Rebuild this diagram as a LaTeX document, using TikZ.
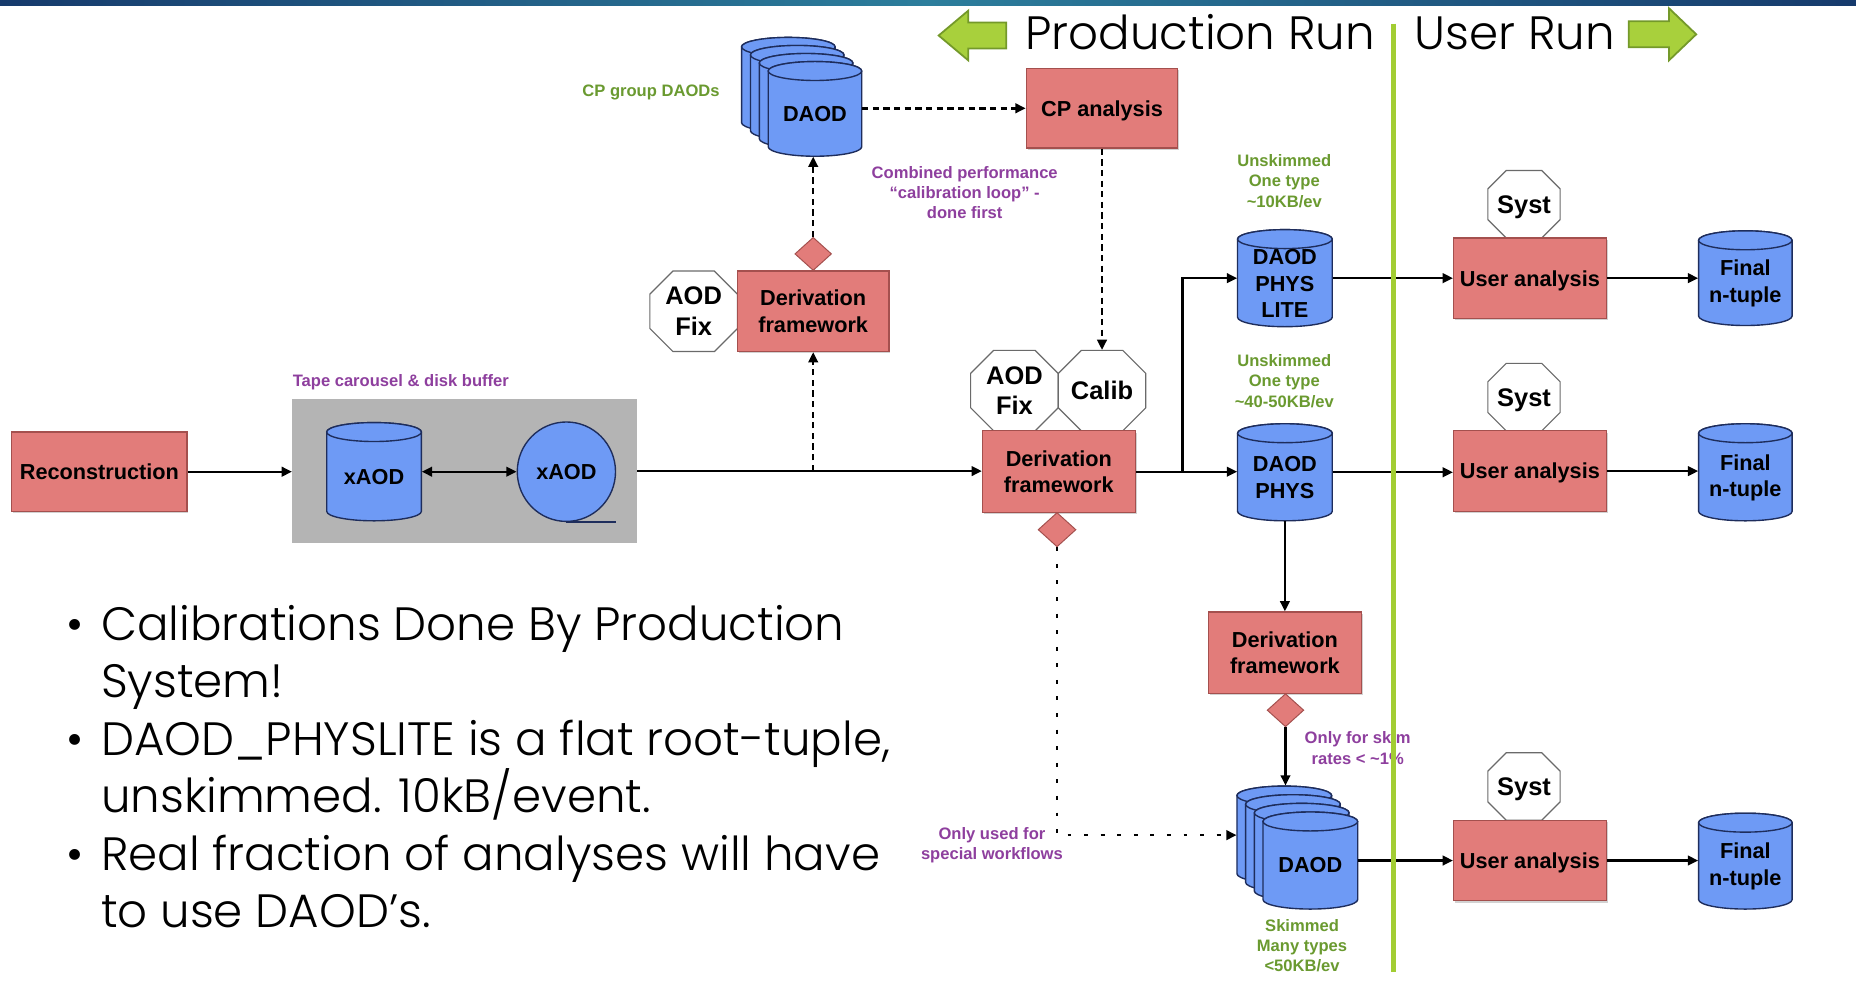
\documentclass[tikz,border=0pt]{standalone}
\usepackage{fontspec}
\setmainfont{Poppins Light}
\newfontfamily\labfont{Liberation Sans}
\usetikzlibrary{arrows.meta,shapes.geometric,shadows,calc}

\definecolor{barnavy}{HTML}{163A6C}
\definecolor{barteal}{HTML}{2C7E9C}
\definecolor{boxred}{HTML}{E27C7A}
\definecolor{boxedge}{HTML}{A4504E}
\definecolor{dbblue}{HTML}{6E9AF5}
\definecolor{dbedge}{HTML}{1E2D5C}
\definecolor{octedge}{HTML}{6A6A6A}
\definecolor{tapegray}{HTML}{B4B4B4}
\definecolor{notepurple}{HTML}{8E3F9E}
\definecolor{notegreen}{HTML}{6A9A30}
\definecolor{splitgreen}{HTML}{A2CD33}
\definecolor{arrowfill}{HTML}{A8D03C}
\definecolor{arrowedge}{HTML}{74992A}

% one drawing unit
\newcommand\pxu{0.6pt}
% half height of a cylinder lid
\newcommand\cry{8}

% cylinder outline: centre x, centre y (downwards), width, height
\newcommand\cylshape[4]{%
  \path[dbbody] (#1-#3/2, -#2+#4/2-\cry) -- (#1-#3/2, -#2-#4/2+\cry)
    arc[start angle=180, end angle=360, x radius=#3/2, y radius=\cry]
    -- (#1+#3/2, -#2+#4/2-\cry)
    arc[start angle=0, end angle=180, x radius=#3/2, y radius=\cry] -- cycle;
  \draw[dbbody] (#1, -#2+#4/2-\cry) ellipse[x radius=#3/2, y radius=\cry];
}

% named cylinder: name, centre x, centre y (downwards), width, height, label
\newcommand\dbnode[6]{%
  \cylshape{#2}{#3}{#4}{#5}
  \node[inner sep=0pt, minimum width=#4*\pxu, minimum height=#5*\pxu] (#1) at (#2,-#3) {};
  \node[dblabel] (#1-txt) at (#2,-#3-4.5) {#6};
}

% octagon outline: centre x, centre y (downwards), width, height, corner cut
\newcommand\octshape[5]{%
  \path[octbody] (#1-#3/2+#5, -#2+#4/2) -- (#1+#3/2-#5, -#2+#4/2)
    -- (#1+#3/2, -#2+#4/2-#5) -- (#1+#3/2, -#2-#4/2+#5)
    -- (#1+#3/2-#5, -#2-#4/2) -- (#1-#3/2+#5, -#2-#4/2)
    -- (#1-#3/2, -#2-#4/2+#5) -- (#1-#3/2, -#2+#4/2-#5) -- cycle;
}

\tikzset{
  proc/.style={rectangle, fill=boxred, draw=boxedge, line width=0.6pt, inner sep=0pt,
    align=center, font=\labfont\bfseries\fontsize{11}{13.6}\selectfont,
    drop shadow={shadow xshift=0.7pt, shadow yshift=-0.9pt, opacity=0.35}},
  dbbody/.style={fill=dbblue, draw=dbedge, line width=0.7pt},
  dblabel/.style={rectangle, inner sep=0pt, align=center,
    font=\labfont\bfseries\fontsize{11}{13.4}\selectfont},
  octbody/.style={fill=white, draw=octedge, line width=0.6pt},
  octlabel/.style={rectangle, inner sep=0pt, align=center,
    font=\labfont\bfseries\fontsize{12.9}{15.6}\selectfont},
  gate/.style={diamond, fill=boxred, draw=boxedge, line width=0.5pt, inner sep=0pt,
    minimum width=31*\pxu, minimum height=28*\pxu},
  note/.style={inner sep=0pt, align=center, font=\labfont\bfseries\fontsize{8.4}{10.2}\selectfont},
  flow/.style={line width=1.2pt, -{Triangle[length=5.2pt,width=4.8pt]}},
  dflow/.style={flow, line width=1.3pt, dash pattern=on 3.2pt off 2.2pt},
  sparse/.style={flow, line width=1.3pt, dash pattern=on 2pt off 6.4pt},
  slide/.style={inner sep=0pt, anchor=base west, font=\fontsize{23.7}{29}\selectfont},
  sidearrow/.style={fill=arrowfill, draw=arrowedge, line width=0.9pt, line join=miter}
}

\begin{document}
\begin{tikzpicture}[x=0.6pt, y=0.6pt]
\useasboundingbox (0,0) rectangle (1568,-840);
\fill[white] (0,0) rectangle (1568,-840);

% header strip
\shade[left color=barnavy, right color=barnavy, middle color=barteal] (0,0) rectangle (1568,-4.5);

% run direction arrows and titles
\path[sidearrow] (793,-30) -- (818,-9) -- (818,-19) -- (850,-19) -- (850,-41) -- (818,-41) -- (818,-51) -- cycle;
\path[sidearrow] (1433,-29) -- (1410,-7) -- (1410,-18) -- (1376,-18) -- (1376,-40) -- (1410,-40) -- (1410,-51) -- cycle;
\node[slide] (prodrun) at (866,-42) {Production Run};
\node[slide] (userrun) at (1195,-42) {User Run};

% bullet list
\node[slide] (dot1) at (56,-541) {\textbullet};
\node[slide] (line1) at (85,-541) {Calibrations Done By Production};
\node[slide] (line2) at (85,-589.5) {System!};
\node[slide] (dot2) at (56,-638) {\textbullet};
\node[slide] (line3) at (85,-638) {DAOD\_PHYSLITE is a flat root-tuple,};
\node[slide] (line4) at (85,-686.5) {unskimmed. 10kB/event.};
\node[slide] (dot3) at (56,-735) {\textbullet};
\node[slide] (line5) at (85,-735) {Real fraction of analyses will have};
\node[slide] (line6) at (85,-783.5) {to use DAOD’s.};

% reconstruction and tape buffer
\node[proc, minimum width=148*\pxu, minimum height=67*\pxu] (recon) at (84,-398.5) {Reconstruction};
\node[fill=tapegray, inner sep=0pt, minimum width=291*\pxu, minimum height=122*\pxu] (tape) at (392.5,-398) {};
\node[note, text=notepurple, anchor=west] (tapelbl) at (247,-323) {Tape carousel \& disk buffer};
\dbnode{xcyl}{316}{398.5}{80}{83}{xAOD}
\node[ellipse, fill=dbblue, draw=dbedge, line width=0.7pt, inner sep=0pt,
  minimum width=83*\pxu, minimum height=84*\pxu,
  font=\labfont\bfseries\fontsize{11}{13.4}\selectfont] (xtape) at (478.5,-398.5) {xAOD};
\draw[dbedge, line width=0.7pt] (xtape.south) -- ++(42,0);

% CP derivation branch
\octshape{586}{263}{74}{68}{19.5}
\node[octlabel, minimum width=74*\pxu, minimum height=68*\pxu] (fixtop) at (586,-263) {AOD\\Fix};
\node[proc, minimum width=128*\pxu, minimum height=68*\pxu] (dft) at (687,-263) {Derivation\\framework};
\node[gate] (dtdia) at (687,-214.5) {};

\cylshape{666}{71.6}{79}{80}
\cylshape{673.5}{78.4}{79}{80}
\cylshape{681}{85.2}{79}{80}
\cylshape{688.5}{92}{79}{80}
\node[inner sep=0pt, minimum width=101.5*\pxu, minimum height=100.4*\pxu] (daodtop) at (677.25,-81.8) {};
\node[dblabel] (daodtoplbl) at (688.5,-96) {DAOD};
\node[note, text=notegreen] (cpgroup) at (550,-78) {CP group DAODs};

\node[proc, minimum width=128*\pxu, minimum height=67*\pxu, text depth=0pt] (cp) at (931,-91.5) {CP analysis};
\node[note, text=notepurple] (loop) at (815,-163) {Combined performance\\“calibration loop” -\\done first};

% central derivation
\octshape{857}{330}{74}{68}{19.5}
\node[octlabel, minimum width=74*\pxu, minimum height=68*\pxu] (fixmid) at (857,-330) {AOD\\Fix};
\octshape{931}{330}{74}{68}{19.5}
\node[octlabel, minimum width=74*\pxu, minimum height=68*\pxu] (calib) at (931,-330) {Calib};
\node[proc, minimum width=129*\pxu, minimum height=69*\pxu] (dfc) at (894.5,-398.5) {Derivation\\framework};
\node[gate, minimum width=32*\pxu, minimum height=29*\pxu] (dcdia) at (893,-447.5) {};
\node[note, text=notepurple] (special) at (838,-714) {Only used for\\special workflows};

% DAOD formats
\node[note, text=notegreen] (liteinfo) at (1085,-153) {Unskimmed\\One type\\\textasciitilde10KB/ev};
\dbnode{plite}{1085.5}{235}{80}{82}{DAOD\\PHYS\\LITE}
\node[note, text=notegreen] (physinfo) at (1085,-322) {Unskimmed\\One type\\\textasciitilde40-50KB/ev};
\dbnode{phys}{1085.5}{399}{80}{82}{DAOD\\PHYS}
\node[proc, minimum width=129*\pxu, minimum height=69*\pxu] (dfl) at (1085.5,-551.5) {Derivation\\framework};
\node[gate] (dldia) at (1086,-600) {};
\node[note, text=notepurple] (skimnote) at (1147,-632) {Only for skim\\rates < \textasciitilde1\%};

\cylshape{1085}{705.1}{80}{82}
\cylshape{1092.3}{712.4}{80}{82}
\cylshape{1099.7}{719.7}{80}{82}
\cylshape{1107}{727}{80}{82}
\node[inner sep=0pt, minimum width=102*\pxu, minimum height=104*\pxu] (daodbot) at (1096,-716) {};
\node[dblabel] (daodbotlbl) at (1107,-731) {DAOD};
\node[note, text=notegreen] (skimmed) at (1100,-799) {Skimmed\\Many types\\<50KB/ev};

% user analyses
\foreach \row/\uy/\sy/\fy/\fh in {1/235/172.5/235/80, 2/398/335.5/399/82, 3/727/664.5/727.5/81}{
  \octshape{1287.5}{\sy}{61}{57}{15.5}
  \node[octlabel, minimum width=61*\pxu, minimum height=57*\pxu, text depth=0pt] (syst\row) at (1287.5,-\sy) {Syst};
  \node[proc, minimum width=129*\pxu, minimum height=68*\pxu, text depth=0pt] (ua\row) at (1292.5,-\uy) {User analysis};
  \dbnode{fin\row}{1474.5}{\fy}{79}{\fh}{Final\\n-tuple}
}

% connectors
\draw[flow] (recon.east) -- (recon.east -| tape.west);
\draw[flow, {Triangle[length=5.2pt,width=4.8pt]}-{Triangle[length=5.2pt,width=4.8pt]}] (xcyl.east) -- (xtape.west);
\draw[flow] (tape.east) -- (tape.east -| dfc.west);
\draw[dflow] (dft.south |- tape.east) -- (dft.south);
\draw[dflow] (dtdia.north) -- (dtdia.north |- daodtop.south);
\draw[dflow] (daodtop.east |- cp.west) -- (cp.west);
\draw[dflow] (cp.south) -- (cp.south |- calib.north);
\draw[flow] (dfc.east) -- (dfc.east -| phys.west);
\coordinate (split) at (999,-398.5);
\draw[flow] (split) |- (plite.west);
\draw[flow] (phys.south) -- (dfl.north);
\draw[flow] (dldia.south) -- (dldia.south |- daodbot.north);
\draw[sparse] (dcdia.south) |- ($(daodbot.north west)!0.4!(daodbot.south west)$);
\draw[flow] (plite.east) -- (ua1.west);
\draw[flow] (ua1.east) -- (fin1.west);
\draw[flow] (phys.east) -- (phys.east -| ua2.west);
\draw[flow] (ua2.east) -- (ua2.east -| fin2.west);
\draw[flow] (daodbot.east |- ua3.west) -- (ua3.west);
\draw[flow] (ua3.east) -- (ua3.east -| fin3.west);

% production / user divider
\coordinate (divtop) at (1177,-20);
\coordinate (divbot) at (1177,-821);
\draw[splitgreen, line width=2.4pt] (divtop) -- (divbot);
\end{tikzpicture}
\end{document}
